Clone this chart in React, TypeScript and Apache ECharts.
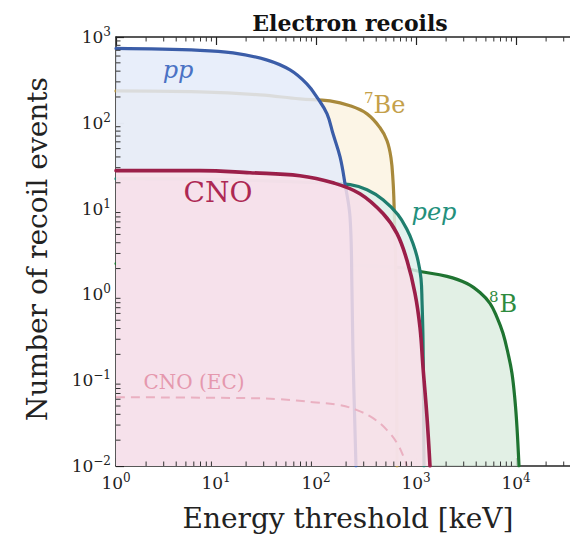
import React, { useEffect, useRef } from "react";
import * as echarts from "echarts";

// ---- data (energy threshold in keV, number of recoil events) ----
const ppE = [1, 6.9, 14.8, 32, 55, 81, 105, 129, 148, 174, 195, 219, 229, 234, 251];
const ppN = [735, 700, 652, 541, 413, 284, 190, 127, 74.5, 40, 19.5, 7.9, 1.1, 0.22, 0.01];

const be7E = [1, 6.9, 27.5, 69, 138, 219, 324, 437, 513, 562, 589, 603, 631, 646];
const be7N = [235, 229, 212, 190, 180, 158, 127, 87.5, 61.8, 39.2, 21.2, 11.4, 1.34, 0.01];

const pepE = [1, 6.9, 27.5, 102, 219, 324, 468, 661, 813, 933, 1047, 1122, 1148, 1175, 1202];
const pepN = [22.3, 22.0, 21.2, 20.0, 19.0, 16.6, 12.7, 8.5, 5.7, 3.92, 2.48, 1.53, 0.85, 0.29, 0.01];

const cnoE = [1, 6.9, 21.9, 69, 148, 275, 468, 646, 813, 977, 1096, 1175, 1288, 1380];
const cnoN = [27.7, 27.7, 26.2, 24.2, 20.0, 14.9, 8.75, 5.11, 2.48, 1.03, 0.413, 0.142, 0.037, 0.01];

const b8E = [1, 21.9, 219, 692, 1096, 2042, 3236, 4365, 5495, 6457, 7413, 8318, 9120, 9772, 10233, 10715];
const b8N = [2.29, 2.23, 2.17, 2.06, 1.85, 1.62, 1.34, 1.05, 0.785, 0.54, 0.352, 0.206, 0.12, 0.058, 0.028, 0.01];

const cnoEcE = [1, 21.9, 43.7, 93.3, 174, 257, 372, 513, 646, 776, 813];
const cnoEcN = [0.0634, 0.0618, 0.06, 0.0555, 0.0512, 0.0448, 0.0361, 0.0262, 0.0185, 0.0117, 0.01];

const xMin = 1;
const xMax = 100000;
const yMin = 0.01;
const yMax = 1000;
const xLabelMax = 10000; // last labelled decade visible in the picture

const FONT = "DejaVu Serif";

const pairs = (xs: number[], ys: number[]) => xs.map((x, i) => [x, ys[i]]);

const expLabel = (v: number) => {
  const e = Math.round(Math.log10(v));
  const s = e < 0 ? "\u2212" + -e : String(e);
  return `{b|10}{s|${s}}`;
};

const tickRich = {
  b: { fontFamily: FONT, fontSize: 17, color: "#222", lineHeight: 22, verticalAlign: "middle" },
  s: { fontFamily: FONT, fontSize: 12, color: "#222", lineHeight: 12, verticalAlign: "top" },
};

export default function App() {
  const ref = useRef<HTMLDivElement>(null);
  useEffect(() => {
    if (!ref.current) return;
    const chart = echarts.init(ref.current, undefined, { renderer: "svg" });

    const minorXs: number[] = [];
    for (let n = 0; n < 5; n++) for (let k = 2; k <= 9; k++) minorXs.push(k * Math.pow(10, n));
    const minorYs: number[] = [];
    for (let n = -2; n < 3; n++) for (let k = 2; k <= 9; k++) minorYs.push(k * Math.pow(10, n));
    const tickData = [
      ...minorXs.map((v) => [v, yMin, 0]),
      ...minorXs.map((v) => [v, yMax, 1]),
      ...minorYs.map((v) => [xMin, v, 2]),
    ];

    const lineSeries = (
      name: string,
      xs: number[],
      ys: number[],
      color: string,
      fill: string,
      width: number,
      z: number
    ) => ({
      type: "line",
      name,
      data: pairs(xs, ys),
      symbol: "none",
      showSymbol: false,
      smooth: 0.4,
      clip: true,
      z,
      lineStyle: { color, width, cap: "round", join: "round" },
      areaStyle: { color: fill, opacity: 0.85, origin: "start" },
      silent: true,
    });

    const baseAxis = {
      type: "log",
      logBase: 10,
      splitLine: { show: false },
      minorTick: { show: false },
      axisLine: { show: true, onZero: false, lineStyle: { color: "#222", width: 1.5 } },
      axisTick: { show: true, inside: true, length: 8, lineStyle: { color: "#222", width: 1.2 } },
    };

    const txt = (x: number, y: number, style: any, extra: any = {}) => ({
      type: "text",
      x,
      y,
      z: 100,
      style,
      ...extra,
    });

    const option: any = {
      animation: false,
      backgroundColor: "#ffffff",
      grid: { left: 116, top: 37, width: 500, height: 429, outerBoundsMode: "none", containLabel: false },
      xAxis: [
        {
          ...baseAxis,
          min: xMin,
          max: xMax,
          interval: 1,
          position: "bottom",
          axisLabel: {
            formatter: (v: number) => (v > xLabelMax * 1.01 ? "" : expLabel(v)),
            rich: tickRich,
            margin: 6,
          },
        },
        {
          ...baseAxis,
          min: xMin,
          max: xMax,
          interval: 1,
          position: "top",
          axisLabel: { show: false },
        },
      ],
      yAxis: [
        {
          ...baseAxis,
          min: yMin,
          max: yMax,
          interval: 1,
          position: "left",
          axisLabel: { formatter: expLabel, rich: tickRich, margin: 5 },
        },
      ],
      series: [
        lineSeries("8B", b8E, b8N, "#1f7431", "rgb(221,237,225)", 3.2, 2),
        lineSeries("7Be", be7E, be7N, "#a8893b", "rgb(251,243,226)", 3.2, 3),
        lineSeries("pep", pepE, pepN, "#1f7e6e", "rgb(221,240,235)", 3.2, 4),
        lineSeries("pp", ppE, ppN, "#3b5da8", "rgb(228,235,249)", 3.2, 5),
        lineSeries("CNO", cnoE, cnoN, "#9b1f49", "rgb(249,223,233)", 3.6, 6),
        {
          type: "line",
          name: "CNO (EC)",
          data: pairs(cnoEcE, cnoEcN),
          symbol: "none",
          smooth: 0.4,
          clip: true,
          z: 7,
          lineStyle: { color: "#eab0c1", width: 2, type: [9, 6] },
          silent: true,
        },
        {
          type: "custom",
          name: "minor ticks",
          data: tickData,
          z: 20,
          silent: true,
          clip: false,
          renderItem: (_params: any, api: any) => {
            const p = api.coord([api.value(0), api.value(1)]);
            const d = api.value(2);
            const L = 4.5;
            let shape;
            if (d === 0) shape = { x1: p[0], y1: p[1], x2: p[0], y2: p[1] - L };
            else if (d === 1) shape = { x1: p[0], y1: p[1], x2: p[0], y2: p[1] + L };
            else shape = { x1: p[0], y1: p[1], x2: p[0] + L, y2: p[1] };
            return { type: "line", shape, style: { stroke: "#333", lineWidth: 1 } };
          },
        },
      ],
      graphic: [
        txt(350, 23, {
          text: "Electron recoils",
          font: `bold 22px "${FONT}"`,
          fill: "#111",
          textAlign: "center",
          textVerticalAlign: "middle",
        }),
        txt(348, 518, {
          text: "Energy threshold [keV]",
          font: `28px "${FONT}"`,
          fill: "#222",
          textAlign: "center",
          textVerticalAlign: "middle",
        }),
        txt(
          37,
          249,
          {
            text: "Number of recoil events",
            font: `28px "${FONT}"`,
            fill: "#222",
            textAlign: "center",
            textVerticalAlign: "middle",
          },
          { rotation: Math.PI / 2 }
        ),
        txt(178, 70, {
          text: "pp",
          font: `italic 24px "${FONT}"`,
          fill: "#4a72c4",
          textAlign: "center",
          textVerticalAlign: "middle",
        }),
        txt(364, 105, {
          text: "{s|7}{b|Be}",
          textVerticalAlign: "middle",
          rich: {
            s: { font: `15px "${FONT}"`, fill: "#c4a04a", lineHeight: 14, verticalAlign: "top" },
            b: { font: `24px "${FONT}"`, fill: "#c4a04a", lineHeight: 30, verticalAlign: "middle" },
          },
        }),
        txt(434, 212, {
          text: "pep",
          font: `italic 24px "${FONT}"`,
          fill: "#23907c",
          textAlign: "center",
          textVerticalAlign: "middle",
        }),
        txt(218, 192, {
          text: "CNO",
          font: `28px "${FONT}"`,
          fill: "#ad2853",
          textAlign: "center",
          textVerticalAlign: "middle",
        }),
        txt(489, 304, {
          text: "{s|8}{b|B}",
          textVerticalAlign: "middle",
          rich: {
            s: { font: `15px "${FONT}"`, fill: "#2e8b3e", lineHeight: 14, verticalAlign: "top", padding: [0, 1, 0, 0] },
            b: { font: `24px "${FONT}"`, fill: "#2e8b3e", lineHeight: 30, verticalAlign: "middle" },
          },
        }),
        txt(194, 382, {
          text: "CNO (EC)",
          font: `20px "${FONT}"`,
          fill: "#e598ae",
          textAlign: "center",
          textVerticalAlign: "middle",
        }),
      ],
    };

    chart.setOption(option);
    return () => chart.dispose();
  }, []);

  return (
    <div
      ref={ref}
      style={{ position: "fixed", left: 0, top: 0, width: 570, height: 538, background: "#fff" }}
    />
  );
}
